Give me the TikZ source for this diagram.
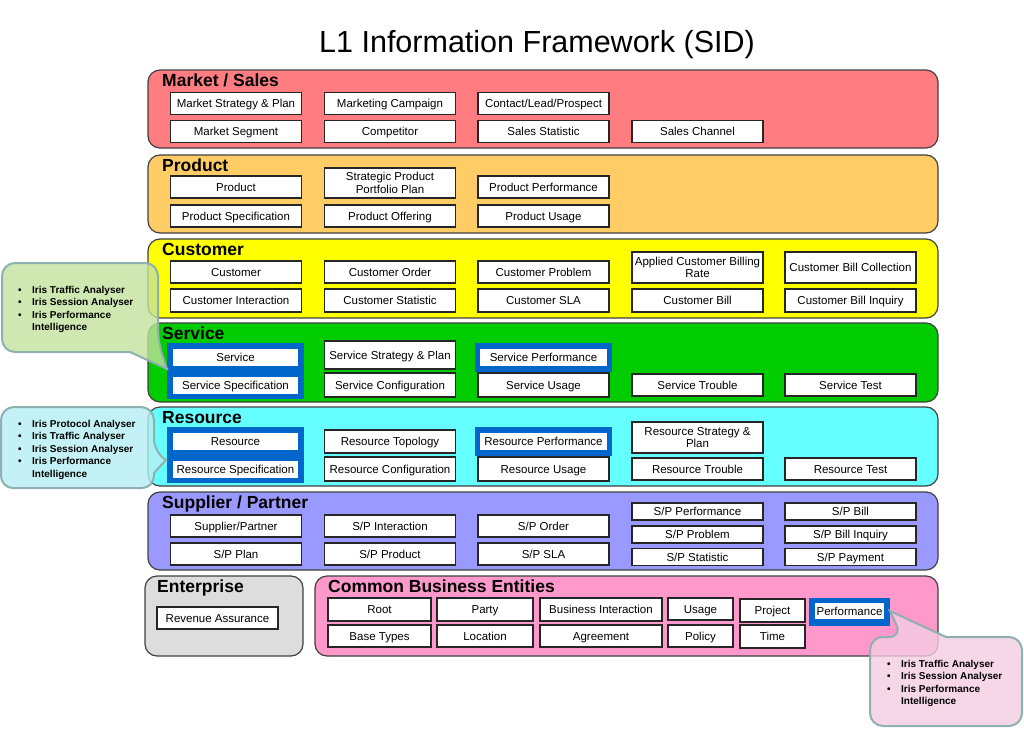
\documentclass[tikz,border=0pt]{standalone}
\usepackage{fontspec}
\setmainfont{Liberation Sans}
\usepackage{tikz}
\usetikzlibrary{shapes}
\usetikzlibrary{positioning}
\definecolor{mktred}{HTML}{FF7C80}
\definecolor{prodorange}{HTML}{FFCC66}
\definecolor{custyellow}{HTML}{FFFF00}
\definecolor{servgreen}{HTML}{00CC00}
\definecolor{rescyan}{HTML}{66FFFF}
\definecolor{suppviolet}{HTML}{9999FF}
\definecolor{entgrey}{HTML}{DDDDDD}
\definecolor{cbepink}{HTML}{FF99CC}
\definecolor{focusblue}{HTML}{0066CC}
\definecolor{noteline}{HTML}{8FB0B0}
\definecolor{notegreen}{HTML}{C3E19C}
\definecolor{notecyan}{HTML}{B5EEF2}
\definecolor{notepink}{HTML}{F4CDE2}
\tikzstyle{band}=[draw=black!75,line width=1.2pt,rounded corners=12pt]
\tikzstyle{bandtitle}=[anchor=base west,inner sep=0pt,font=\fontsize{17.5}{19}\selectfont\bfseries]
\tikzstyle{entity}=[rectangle,draw=black!85,fill=white,line width=1.3pt,inner sep=1pt,minimum width=131pt,minimum height=22pt,text height=10pt,text depth=2pt,font=\fontsize{11.5}{12.5}\selectfont]
\tikzstyle{entity2}=[rectangle,draw=black!85,fill=white,line width=1.3pt,inner sep=1pt,minimum width=131pt,align=center,font=\fontsize{11.5}{12.5}\selectfont]
\tikzstyle{focus}=[fill=focusblue,draw=none]
\tikzstyle{callout}=[draw=noteline,line width=2pt,rounded corners=13pt,fill opacity=0.8]
\tikzstyle{note}=[anchor=north west,inner sep=0pt,align=left,font=\fontsize{10}{12.5}\selectfont\bfseries]
\newcommand \bul {\makebox[14pt][l]{\textbullet}}
\newcommand \ind {\hspace*{14pt}}

\begin{document}
\begin{tikzpicture}[x=1pt,y=-1pt]
      \useasboundingbox (0,0) rectangle (1024,728);
      \node[font=\fontsize{30.5}{34}\selectfont,anchor=base] at (537,52) (heading) {L1 Information Framework (SID)};

      \path[band,fill=mktred] (148,70) rectangle (938,148);
      \node[bandtitle] at (162,86) (mktTitle) {Market / Sales};
      \node[entity] at (236,103.5) (mktStrategy) {Market Strategy \& Plan};
      \node[entity] at (390,103.5) (mktCampaign) {Marketing Campaign};
      \node[entity] at (543.5,103.5) (contact) {Contact/Lead/Prospect};
      \node[entity] at (236,131.5) (mktSegment) {Market Segment};
      \node[entity] at (390,131.5) (competitor) {Competitor};
      \node[entity] at (543.5,131.5) (salesStat) {Sales Statistic};
      \node[entity] at (697.5,131.5) (salesChannel) {Sales Channel};

      \path[band,fill=prodorange] (148,155) rectangle (938,233);
      \node[bandtitle] at (162,171) (prodTitle) {Product};
      \node[entity] at (236,187) (product) {Product};
      \node[entity2,minimum height=30pt] at (390,183) (prodStrategy) {Strategic Product\\Portfolio Plan};
      \node[entity] at (543.5,187) (prodPerf) {Product Performance};
      \node[entity] at (236,216) (prodSpec) {Product Specification};
      \node[entity] at (390,216) (prodOffer) {Product Offering};
      \node[entity] at (543.5,216) (prodUsage) {Product Usage};

      \path[band,fill=custyellow] (148,239) rectangle (938,318);
      \node[bandtitle] at (162,255) (custTitle) {Customer};
      \node[entity] at (236,272) (customer) {Customer};
      \node[entity] at (390,272) (custOrder) {Customer Order};
      \node[entity] at (543.5,272) (custProblem) {Customer Problem};
      \node[entity2,minimum height=31pt] at (697.5,267.5) (billRate) {Applied Customer Billing\\Rate};
      \node[entity,minimum height=31pt] at (850.5,267.5) (billCollect) {Customer Bill Collection};
      \node[entity,minimum height=23pt] at (236,300.5) (custInteract) {Customer Interaction};
      \node[entity,minimum height=23pt] at (390,300.5) (custStat) {Customer Statistic};
      \node[entity,minimum height=23pt] at (543.5,300.5) (custSLA) {Customer SLA};
      \node[entity,minimum height=23pt] at (697.5,300.5) (custBill) {Customer Bill};
      \node[entity,minimum height=23pt] at (850.5,300.5) (billInquiry) {Customer Bill Inquiry};

      \path[band,fill=servgreen] (148,323) rectangle (938,402);
      \node[bandtitle] at (162,339) (servTitle) {Service};
      \path[focus] (167,343) rectangle (304,399);
      \path[focus] (475,343) rectangle (612,372);
      \node[entity,draw=none,minimum width=125pt,minimum height=17pt] at (235.5,357) (service) {Service};
      \node[entity,draw=none,minimum width=125pt,minimum height=17pt] at (235.5,385.5) (servSpec) {Service Specification};
      \node[entity,minimum height=28pt] at (390,355) (servStrategy) {Service Strategy \& Plan};
      \node[entity,draw=none,minimum width=127pt,minimum height=17pt] at (543.5,357) (servPerf) {Service Performance};
      \node[entity,minimum height=24pt] at (390,385) (servConfig) {Service Configuration};
      \node[entity,minimum height=24pt] at (543.5,385) (servUsage) {Service Usage};
      \node[entity] at (697.5,385) (servTrouble) {Service Trouble};
      \node[entity] at (850.5,385) (servTest) {Service Test};

      \path[band,fill=rescyan] (148,407) rectangle (938,486);
      \node[bandtitle] at (162,423) (resTitle) {Resource};
      \path[focus] (167,427) rectangle (304,483);
      \path[focus] (475,427) rectangle (612,456);
      \node[entity,draw=none,minimum width=125pt,minimum height=17pt] at (235.5,441.5) (resource) {Resource};
      \node[entity,draw=none,minimum width=125pt,minimum height=17pt] at (235.5,469.5) (resSpec) {Resource Specification};
      \node[entity,minimum height=23pt] at (390,441.5) (resTopology) {Resource Topology};
      \node[entity,draw=none,minimum width=127pt,minimum height=17pt] at (543.5,441.5) (resPerf) {Resource Performance};
      \node[entity2,minimum height=31pt] at (697.5,437.5) (resStrategy) {Resource Strategy \&\\Plan};
      \node[entity,minimum height=24pt] at (390,469) (resConfig) {Resource Configuration};
      \node[entity,minimum height=24pt] at (543.5,469) (resUsage) {Resource Usage};
      \node[entity] at (697.5,469) (resTrouble) {Resource Trouble};
      \node[entity] at (850.5,469) (resTest) {Resource Test};

      \path[band,fill=suppviolet] (148,492) rectangle (938,570);
      \node[bandtitle] at (162,508) (suppTitle) {Supplier / Partner};
      \node[entity] at (236,526) (partner) {Supplier/Partner};
      \node[entity] at (390,526) (spInteract) {S/P Interaction};
      \node[entity] at (543.5,526) (spOrder) {S/P Order};
      \node[entity] at (236,554) (spPlan) {S/P Plan};
      \node[entity] at (390,554) (spProduct) {S/P Product};
      \node[entity] at (543.5,554) (spSLA) {S/P SLA};
      \node[entity,minimum height=17pt] at (697.5,511.5) (spPerf) {S/P Performance};
      \node[entity,minimum height=17pt] at (697.5,534.5) (spProblem) {S/P Problem};
      \node[entity,minimum height=17pt] at (697.5,557) (spStat) {S/P Statistic};
      \node[entity,minimum height=17pt] at (850.5,511.5) (spBill) {S/P Bill};
      \node[entity,minimum height=17pt] at (850.5,534.5) (spBillInq) {S/P Bill Inquiry};
      \node[entity,minimum height=17pt] at (850.5,557) (spPayment) {S/P Payment};

      \path[band,fill=entgrey] (145,576) rectangle (303,656);
      \node[bandtitle] at (157,592) (entTitle) {Enterprise};
      \node[entity,minimum width=121pt] at (217.5,618) (revenue) {Revenue Assurance};

      \path[band,fill=cbepink] (315,576) rectangle (938,656);
      \node[bandtitle] at (328,592) (cbeTitle) {Common Business Entities};
      \node[entity,minimum width=103pt,minimum height=23pt] at (379.5,609.5) (root) {Root};
      \node[entity,minimum width=96pt,minimum height=23pt] at (485,609.5) (party) {Party};
      \node[entity,minimum width=122pt,minimum height=23pt] at (601,609.5) (bizInteract) {Business Interaction};
      \node[entity,minimum width=65pt,minimum height=22pt] at (700.5,609) (usage) {Usage};
      \node[entity,minimum width=65pt,minimum height=23pt] at (772.5,610.5) (project) {Project};
      \path[focus] (809,598) rectangle (890,626);
      \node[entity,draw=none,minimum width=69pt,minimum height=16pt,inner sep=0pt] at (849.5,611) (performance) {Performance};
      \node[entity,minimum width=103pt] at (379.5,636) (baseTypes) {Base Types};
      \node[entity,minimum width=96pt] at (485,636) (location) {Location};
      \node[entity,minimum width=122pt] at (601,636) (agreement) {Agreement};
      \node[entity,minimum width=65pt] at (700.5,636) (policy) {Policy};
      \node[entity,minimum width=65pt,minimum height=23pt] at (772.5,636.5) (time) {Time};

      \draw[callout,fill=notegreen] (2,300) |- (158,263) -- (158,342) [sharp corners] -- (167,369) -- (130,352) [rounded corners=13pt] -| (2,300) -- cycle;
      \node[note] at (18,286) (servNote) {\bul Iris Traffic Analyser\\\bul Iris Session Analyser\\\bul Iris Performance\\\ind Intelligence};

      \draw[callout,fill=notecyan] (1,447) |- (154,407) -- (154,452) [sharp corners] -- (166,460) -- (154,473) [rounded corners=12pt] |- (1,488) -- cycle;
      \node[note] at (18,420) (resNote) {\bul Iris Protocol Analyser\\\bul Iris Traffic Analyser\\\bul Iris Session Analyser\\\bul Iris Performance\\\ind Intelligence};

      \draw[callout,fill=notepink] (870,680) |- (902,637) [sharp corners] -- (890,611) -- (946,637) [rounded corners=13pt] -| (1022,680) |- (870,726) -- cycle;
      \node[note] at (887,660) (cbeNote) {\bul Iris Traffic Analyser\\\bul Iris Session Analyser\\\bul Iris Performance\\\ind Intelligence};
    \end{tikzpicture}
\end{document}
